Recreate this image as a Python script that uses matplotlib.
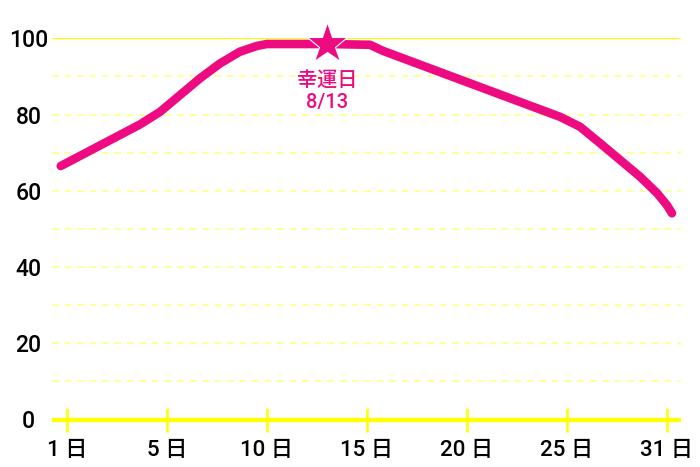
import numpy as np
import matplotlib
matplotlib.use("Agg")
import matplotlib.pyplot as plt

plt.rcParams['font.family'] = ['Roboto', 'Noto Sans CJK JP', 'DejaVu Sans']

# ---- data ----
tick_days = [1, 5, 10, 15, 20, 25, 31]
tick_labels = ["1 日", "5 日", "10 日", "15 日", "20 日", "25 日", "31 日"]
y_ticks = [0, 20, 40, 60, 80, 100]
days = [0.75, 3.92, 4.72, 5.65, 6.65, 7.65, 8.65, 9.5, 10, 13, 15.15, 15.8,
        24.65, 25.78, 26.98, 28.18, 29.38, 30.4, 31, 31.3]
values = [66.5, 77.4, 80.7, 85.1, 89.5, 93.4, 96.5, 98.0, 98.5, 98.5, 98.3, 96.7,
          79.4, 76.8, 72.5, 68.1, 63.7, 59.4, 56.2, 54.1]
lucky_day = 13
lucky_value = 98.5
lucky_label = "幸運日\n8/13"

PINK = "#EE0A80"
YELLOW = "#FFFF00"
LIGHT_YELLOW = "#FFFF88"

idx = np.arange(len(tick_days), dtype=float)
td = np.array(tick_days, dtype=float)


def fwd(d):
    d = np.asarray(d, dtype=float)
    out = np.interp(d, td, idx)
    out = np.where(d < td[0], (d - td[0]) / (td[1] - td[0]), out)
    out = np.where(d > td[-1], idx[-1] + (d - td[-1]) / (td[-1] - td[-2]), out)
    return out


def inv(p):
    p = np.asarray(p, dtype=float)
    out = np.interp(p, idx, td)
    out = np.where(p < 0, td[0] + p * (td[1] - td[0]), out)
    out = np.where(p > idx[-1], td[-1] + (p - idx[-1]) * (td[-1] - td[-2]), out)
    return out


fig = plt.figure(figsize=(7, 4.67), dpi=100)
ax = fig.add_axes([52 / 700, (467 - 419.5) / 467, 629 / 700, (419.5 - 38.3) / 467])
ax.set_xscale('function', functions=(fwd, inv))
ax.set_xlim(inv(-0.15), inv(6.14))
ax.set_ylim(0, 100)

# grid lines
for g in range(10, 100, 10):
    ax.axhline(g, color=LIGHT_YELLOW, lw=1.2, ls=(0, (4, 3.5)), zorder=1)
ax.axhline(100, color=YELLOW, lw=1.6, zorder=1)

for s in ['top', 'right', 'left']:
    ax.spines[s].set_visible(False)
ax.spines['bottom'].set_color(YELLOW)
ax.spines['bottom'].set_linewidth(3.2)
ax.spines['bottom'].set_capstyle('butt')

ax.set_xticks(tick_days)
ax.set_xticklabels(tick_labels, fontweight='medium')
ax.set_yticks(y_ticks)
ax.set_yticklabels([str(v) for v in y_ticks], fontweight='medium')
ax.tick_params(axis='x', direction='inout', length=17, width=1.8, color=YELLOW,
               labelsize=16, pad=6, labelcolor='black')
ax.tick_params(axis='y', length=0, labelsize=16.5, pad=17, labelcolor='black')
for lab in ax.get_yticklabels():
    lab.set_horizontalalignment('center')

ax.plot(days, values, color=PINK, lw=6.2, solid_capstyle='round',
        solid_joinstyle='round', zorder=3, clip_on=False)
ax.plot([lucky_day], [lucky_value], marker='*', ms=31, color=PINK,
        mec='white', mew=0.8, zorder=4, clip_on=False)
ax.annotate(lucky_label, xy=(lucky_day, lucky_value), xytext=(0, -19.5),
            textcoords='offset points', ha='center', va='top', color=PINK,
            fontsize=14.5, fontweight='medium', linespacing=1.2, zorder=5)

fig.savefig("out.png", dpi=100)
